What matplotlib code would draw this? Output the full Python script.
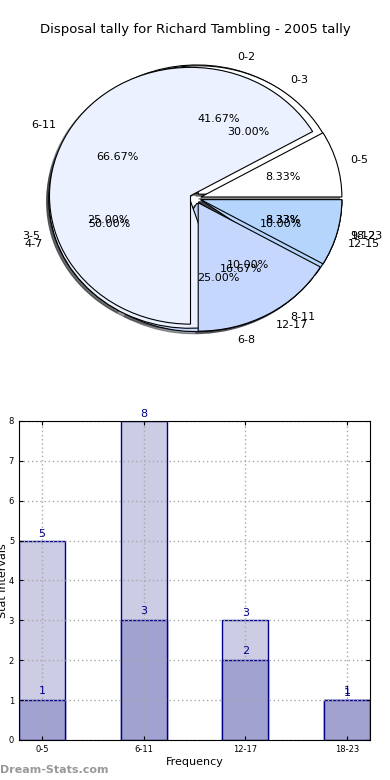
import numpy as np
import matplotlib
matplotlib.use('Agg')
import matplotlib.pyplot as plt

# pie data (three tallies drawn on top of each other)
labels_c = ['0-2', '3-5', '6-8', '9-12']
values_c = [5, 3, 3, 1]
labels_b = ['0-3', '4-7', '8-11', '12-15']
values_b = [3, 5, 1, 1]
labels_a = ['0-5', '6-11', '12-17', '18-23']
values_a = [1, 8, 2, 1]

# bar data
bar_labels = ['0-5', '6-11', '12-17', '18-23']
totals = [5, 8, 3, 1]
counts = [1, 3, 2, 1]

pie_colors = ['white', '#ebf1fe', '#c6d7fd', '#b5d5fd']
navy = '#00008b'

fig = plt.figure(figsize=(3.9, 7.8), dpi=100)
fig.text(0.5, 1 - 30 / 780, 'Disposal tally for Richard Tambling - 2005 tally',
         ha='center', va='center', fontsize=9.5)

# pie axes
ax1 = fig.add_axes([0.049, 0.540, 0.904, 0.4115])
for labels, values in [(labels_c, values_c), (labels_b, values_b), (labels_a, values_a)]:
    ax1.pie(values, labels=labels, colors=pie_colors,
            explode=[0.04] * len(values),
            shadow={'ox': -0.012, 'oy': -0.012, 'shade': 0.75},
            autopct='%.2f%%',
            wedgeprops={'edgecolor': 'black', 'linewidth': 0.8},
            textprops={'fontsize': 8})
ax1.set_aspect('auto')
ax1.set_xlim(-1.25, 1.25)
ax1.set_ylim(-1.25, 1.25)

# bar axes
ax2 = fig.add_axes([0.0487, 0.0513, 0.9, 0.409])
x = np.arange(len(bar_labels))
w = 0.45
ax2.bar(x, totals, width=w, color='#ccccE4', edgecolor=navy, linewidth=1, zorder=1)
ax2.bar(x, counts, width=w, color='#a2a2d0', edgecolor=navy, linewidth=1, zorder=1.2)
for xi, t, c in zip(x, totals, counts):
    ax2.text(xi, t + 0.05, str(t), ha='center', va='bottom', fontsize=8, color=navy, zorder=4)
    ax2.text(xi, c + 0.1, str(c), ha='center', va='bottom', fontsize=8, color=navy, zorder=4)
ax2.set_xlim(-w / 2, 3 + w / 2)
ax2.set_ylim(0, 8)
ax2.set_xticks(x)
ax2.set_xticklabels(bar_labels)
ax2.set_yticks(range(9))
ax2.tick_params(direction='in', top=True, right=True, labelsize=6, length=3)
ax2.set_axisbelow('line')
ax2.grid(True, linestyle=(0, (1, 2)), color='#a8a8a8', linewidth=1)
ax2.set_xlabel('Frequency', fontsize=8, labelpad=2)
ax2.set_ylabel('Stat intervals', fontsize=8)
ax2.yaxis.set_label_coords(-0.03, 0.5)

fig.text(0.0, 0.013, 'Dream-Stats.com', fontsize=8, color='#999999',
         fontweight='bold', ha='left', va='center')

fig.savefig('out.png', dpi=100)
